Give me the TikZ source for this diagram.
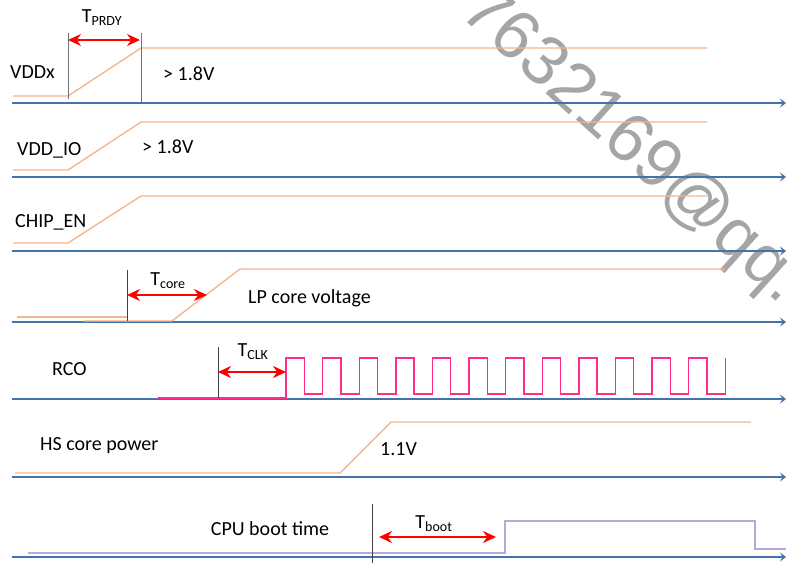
\documentclass[tikz,border=0pt]{standalone}
\usepackage{fontspec}
\setmainfont{Carlito}
\newfontfamily\wmfont{Liberation Sans}
\usetikzlibrary{arrows.meta}
\definecolor{axisblue}{RGB}{68,114,170}
\definecolor{rampor}{RGB}{246,182,140}
\definecolor{clkpink}{RGB}{255,45,135}
\definecolor{bootlav}{RGB}{182,170,212}
\definecolor{wmgray}{RGB}{165,165,165}
\begin{document}
\begin{tikzpicture}[
  x=1pt, y=-1pt,
  font=\fontsize{20}{24}\selectfont,
  axis/.style={draw=axisblue, line width=1.8pt, -{Stealth[length=6pt,width=9pt,inset=2.5pt]}},
  wave/.style={draw=rampor, line width=1.4pt},
  clk/.style={draw=clkpink, line width=1.4pt},
  boot/.style={draw=bootlav, line width=2pt},
  guide/.style={draw=black!75, line width=0.9pt},
  dim/.style={draw=red, line width=1.6pt, {Stealth[length=13pt,width=12pt]}-{Stealth[length=13pt,width=12pt]}},
  sig/.style={inner sep=0pt, anchor=base west},
  tlbl/.style={inner sep=0pt, anchor=base},
  wm/.style={font=\wmfont\fontsize{69}{72}\selectfont, text=wmgray, inner sep=0pt, anchor=base west, rotate=-42},
]
\useasboundingbox (0,0) rectangle (787,563);
\begin{scope}
  \clip (0,0) rectangle (787,563);
  \node[wm] (wmark) at (458,14) {7632169@qq.com};
\end{scope}

\foreach \i/\y in {1/103, 2/177, 3/251, 4/322, 5/399, 6/477, 7/557} {
  \coordinate (axL\i) at (12,\y);
  \coordinate (axR\i) at (786,\y);
  \draw[axis] (axL\i) -- (axR\i);
}

\draw[wave] (13,96) -- (68,96) -- (141,48) -- (707,48);
\draw[wave] (13,170) -- (68,170) -- (141,122) -- (707,122);
\draw[wave] (13,243) -- (68,243) -- (141,196) -- (707,196);
\draw[wave] (17,317) -- (127,317);
\draw[wave] (83,321) -- (172,321) -- (240,269) -- (725,269);
\draw[wave] (15,473) -- (340,473) -- (391,422) -- (751,422);
\draw[clk] (158,398) -- (286,398) -- (286,358)
  \foreach \k in {0,...,11} { -- ++(18.3,0) -- ++(0,36) -- ++(18.3,0) -- ++(0,-36) };
\draw[boot] (28,553) -- (505,553) -- (505,521) -- (755,521) -- (755,549) -- (786,549);

\draw[guide, draw=black!55] (68,33) -- (68,99);
\draw[guide, draw=black!55] (141,33) -- (141,102);
\draw[guide] (127,270) -- (127,321);
\draw[guide] (218,347) -- (218,398);
\draw[guide] (372,504) -- (372,563);

\coordinate (prdyA) at (68,40);
\coordinate (prdyB) at (140,40);
\coordinate (coreA) at (127,295);
\coordinate (coreB) at (207,295);
\coordinate (clkA) at (218,372);
\coordinate (clkB) at (286,372);
\coordinate (bootA) at (379,537);
\coordinate (bootB) at (496,537);
\draw[dim] (prdyA) -- (prdyB);
\draw[dim] (coreA) -- (coreB);
\draw[dim] (clkA) -- (clkB);
\draw[dim] (bootA) -- (bootB);

\node[tlbl] (tprdy) at (102,22) {T\textsubscript{PRDY}};
\node[tlbl] (tcore) at (168,285) {T\textsubscript{core}};
\node[tlbl] (tclk)  at (253,356) {T\textsubscript{CLK}};
\node[tlbl] (tboot) at (434,528) {T\textsubscript{boot}};

\node[sig] (vddx)   at (10,78)   {VDDx};
\node[sig] (vddxv)  at (163,80)  {> 1.8V};
\node[sig] (vddio)  at (17,155)  {VDD\_IO};
\node[sig] (vddiov) at (142,153) {> 1.8V};
\node[sig] (chipen) at (15,227)  {CHIP\_EN};
\node[sig] (lpcore) at (248,303) {LP core voltage};
\node[sig] (rco)    at (52,375)  {RCO};
\node[sig] (hscore) at (40,450)  {HS core power};
\node[sig] (hsv)    at (380,455) {1.1V};
\node[tlbl] (cpuboot) at (270,535) {CPU boot time};
\end{tikzpicture}
\end{document}
